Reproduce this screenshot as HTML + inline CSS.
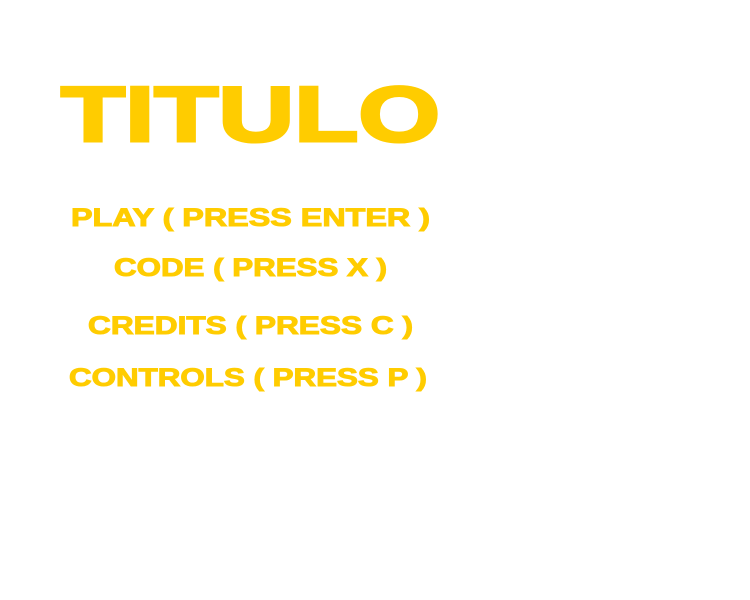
<!DOCTYPE html>
<html><head><meta charset="utf-8"><style>
html,body{margin:0;padding:0;background:#fff;width:750px;height:600px;overflow:hidden}
svg text{font-family:"Liberation Sans",sans-serif;font-weight:bold;fill:#FFCC00;stroke:#FFCC00}
</style></head><body>
<svg width="750" height="600">
<text x="61" y="141" font-size="78" stroke-width="3" textLength="379" lengthAdjust="spacingAndGlyphs">TITULO</text>
<text x="71" y="226" font-size="25" stroke-width="1" textLength="359" lengthAdjust="spacingAndGlyphs">PLAY ( PRESS ENTER )</text>
<text x="114" y="276" font-size="25" stroke-width="1" textLength="273" lengthAdjust="spacingAndGlyphs">CODE ( PRESS X )</text>
<text x="88" y="334" font-size="25" stroke-width="1" textLength="325" lengthAdjust="spacingAndGlyphs">CREDITS ( PRESS C )</text>
<text x="69" y="386" font-size="25" stroke-width="1" textLength="358" lengthAdjust="spacingAndGlyphs">CONTROLS ( PRESS P )</text>
</svg>
</body></html>
